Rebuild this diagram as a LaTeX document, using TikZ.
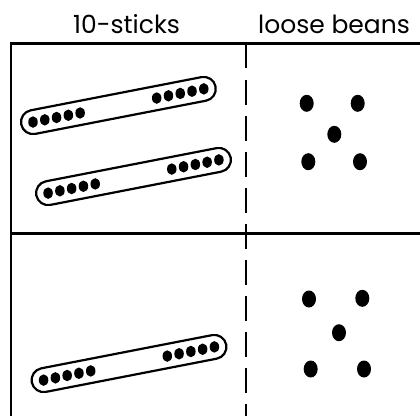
\documentclass[tikz,border=0pt]{standalone}
\usepackage{fontspec}
\setmainfont{Poppins}
\usetikzlibrary{shapes.geometric}

\begin{document}
\begin{tikzpicture}[x=1pt,y=1pt,
  every node/.style={font=\fontsize{25}{30}\selectfont},
  frame/.style={line width=2.3pt},
  stickbox/.style={line width=2.2pt,rounded corners=12pt},
  bead/.style={ellipse,fill=black,inner sep=0pt,minimum width=9.5pt,minimum height=11.5pt},
  bean/.style={ellipse,fill=black,inner sep=0pt,minimum width=14pt,minimum height=17pt}]
  \useasboundingbox (0,0) rectangle (420,416);
  % titres
  \node[anchor=base] (ttens) at (126.5,382) {10-sticks};
  \node[anchor=base] (tones) at (334,382) {loose beans};
  % cadre
  \draw[frame] (420,372.5) -- (11,372.5) -- (11,0);
  \draw[frame] (11,182.5) -- (420,182.5);
  \draw[line width=2pt,dash pattern=on 25pt off 11pt] (246,372.5) -- (246,0);
  % bâtonnets de 10
  \foreach \cx/\cy/\s in {118.4/310.5/a,133.5/239.5/b,129/52.5/c}
  {
    \begin{scope}[shift={(\cx,\cy)},rotate=11]
      \draw[stickbox] (-99,-12) rectangle (99,12);
      \foreach \k in {0,...,4}
      {
        \node[bead] (\s-l\k) at (-87+12*\k,0) {};
        \node[bead] (\s-r\k) at (87-12*\k,0) {};
      }
    \end{scope}
  }
  % haricots
  \foreach \x/\y/\n in {306.7/312.7/h1,357.7/312.7/h2,334.3/281.7/h3,308.3/254.3/h4,360/254.3/h5,
                        309/117/b1,362.3/117.7/b2,339/83.3/b3,310.7/47/b4,364/47/b5}
    \node[bean] (\n) at (\x,\y) {};
\end{tikzpicture}
\end{document}
